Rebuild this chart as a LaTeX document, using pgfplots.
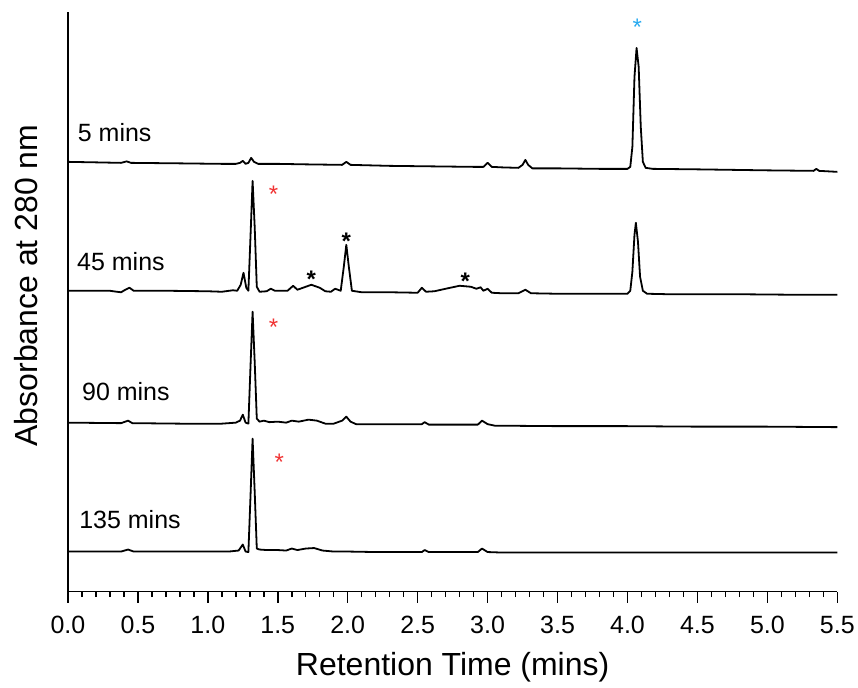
\documentclass[border=0pt]{standalone}
\usepackage{pgfplots}
\pgfplotsset{compat=1.18}
\usepackage{fontspec}
\setmainfont{Liberation Sans}
\definecolor{starred}{RGB}{240,50,50}
\definecolor{starblue}{RGB}{40,170,240}
\tikzset{trace/.style={black, mark=none, line width=1.8pt, line join=round}}
\begin{document}
\begin{tikzpicture}
\begin{axis}[
  at={(0,0)}, anchor=south west,
  scale only axis, width=770pt, height=580pt,
  xmin=0, xmax=5.5, ymin=5, ymax=585,
  axis x line=bottom, axis y line=left,
  axis line style={-, line width=1.6pt},
  xtick={0,0.5,...,5.5}, minor x tick num=4,
  ytick=\empty,
  tick align=outside,
  major tick length=11pt, minor tick length=5.5pt,
  every tick/.style={line width=1.5pt, black},
  /pgf/number format/assume math mode=true,
  xticklabel style={/pgf/number format/fixed, /pgf/number format/fixed zerofill,
    /pgf/number format/precision=1, font=\fontsize{25}{25}\selectfont, yshift=-10pt},
  xlabel={Retention Time (mins)},
  ylabel={Absorbance at 280 nm},
  every axis x label/.style={at={(axis description cs:0.5,-0.131)}, anchor=center, font=\fontsize{32}{32}\selectfont},
  every axis y label/.style={at={(axis description cs:-0.0545,0.528)}, rotate=90, anchor=center, font=\fontsize{32}{32}\selectfont},
  clip=false,
]
% 5 mins
\addplot[trace] coordinates {
(0.00,435) (0.20,434.5) (0.38,434) (0.42,435.5) (0.45,434) (0.80,433.5) (1.10,433) (1.20,433)
(1.23,434) (1.25,436) (1.27,433) (1.29,434) (1.31,439) (1.33,435) (1.36,433) (1.50,433)
(1.70,432.5) (1.96,432) (1.99,435) (2.02,432) (2.30,431) (2.60,430.5) (2.90,430) (2.97,430)
(3.00,434) (3.03,430) (3.10,429.5) (3.22,429) (3.25,432) (3.27,437) (3.29,432) (3.32,428.5)
(3.50,428.5) (3.80,428) (4.00,428) (4.02,430) (4.035,450) (4.05,520) (4.065,549) (4.08,530)
(4.095,470) (4.11,435) (4.13,429) (4.18,428) (4.50,427.5) (5.00,426.5) (5.33,426) (5.35,428)
(5.37,426) (5.50,425)
};
% 45 mins
\addplot[trace] coordinates {
(0.00,306) (0.30,306) (0.35,305) (0.38,304.5) (0.41,307) (0.44,309) (0.47,306) (0.70,306)
(1.00,305.5) (1.10,305) (1.18,306.5) (1.21,306) (1.235,312) (1.255,324) (1.275,309) (1.29,306)
(1.305,360) (1.32,416) (1.335,370) (1.35,310) (1.37,305) (1.42,305.5) (1.45,308) (1.48,306)
(1.57,306) (1.61,311) (1.64,307) (1.68,309) (1.74,312) (1.80,309) (1.84,305.5) (1.88,305)
(1.91,308) (1.95,306) (1.972,330) (1.99,352) (2.008,330) (2.03,306) (2.10,304.5) (2.30,304.5)
(2.50,304) (2.53,309) (2.56,305) (2.62,305.5) (2.70,308) (2.80,311) (2.88,310) (2.92,308)
(2.95,309.5) (2.97,306) (3.00,308) (3.03,304) (3.10,303.5) (3.22,303.5) (3.27,307) (3.31,303.5)
(3.50,303) (3.80,303) (4.00,303) (4.02,306) (4.035,325) (4.05,362) (4.06,374) (4.075,355)
(4.09,320) (4.11,306) (4.14,303) (4.30,302.5) (4.80,302.5) (5.20,302) (5.50,302)
};
% 90 mins
\addplot[trace] coordinates {
(0.00,174) (0.38,173.5) (0.43,176) (0.46,173.5) (0.80,173) (1.10,173) (1.20,174) (1.23,176)
(1.25,182) (1.27,174) (1.29,173) (1.305,230) (1.32,285) (1.335,235) (1.35,178) (1.37,175)
(1.40,176) (1.44,174.5) (1.50,175) (1.56,174) (1.60,176) (1.65,175) (1.72,177) (1.78,176)
(1.84,173) (1.90,173) (1.96,176) (1.99,180) (2.02,175) (2.06,172.5) (2.30,172.5) (2.53,172.5)
(2.55,174.5) (2.58,172) (2.80,172) (2.93,172) (2.96,176) (3.00,172.5) (3.05,171) (3.50,170.5)
(4.00,170.5) (4.50,170) (5.00,170) (5.50,169.5)
};
% 135 mins
\addplot[trace] coordinates {
(0.00,45) (0.38,45) (0.43,47) (0.47,45) (0.80,45) (1.15,45) (1.22,46) (1.25,52)
(1.27,45) (1.29,44.5) (1.305,100) (1.32,158) (1.335,105) (1.35,48) (1.37,47) (1.42,46.5)
(1.50,46.5) (1.56,46) (1.60,48) (1.64,46.5) (1.70,48) (1.76,48.5) (1.82,46) (1.90,45)
(2.00,45) (2.20,44.5) (2.53,44.5) (2.55,46.5) (2.58,44.5) (2.80,44.5) (2.93,44.5) (2.96,48)
(3.00,44.5) (3.10,44) (4.00,44) (4.50,44) (5.00,44) (5.50,44)
};
% labels
\node[anchor=west, inner sep=0pt, font=\fontsize{25}{25}\selectfont] at (axis cs:0.07,464) {5 mins};
\node[anchor=west, inner sep=0pt, font=\fontsize{25}{25}\selectfont] at (axis cs:0.065,335) {45 mins};
\node[anchor=west, inner sep=0pt, font=\fontsize{25}{25}\selectfont] at (axis cs:0.10,205) {90 mins};
\node[anchor=west, inner sep=0pt, font=\fontsize{25}{25}\selectfont] at (axis cs:0.08,77) {135 mins};
% asterisks
\node[anchor=base, inner sep=0pt, yshift=-13.5pt, text=starblue, font=\fontsize{24}{24}\selectfont] at (axis cs:4.07,575) {*};
\node[anchor=base, inner sep=0pt, yshift=-13.5pt, text=starred, font=\fontsize{24}{24}\selectfont] at (axis cs:1.47,408) {*};
\node[anchor=base, inner sep=0pt, yshift=-13.5pt, text=starred, font=\fontsize{24}{24}\selectfont] at (axis cs:1.47,275) {*};
\node[anchor=base, inner sep=0pt, yshift=-13.5pt, text=starred, font=\fontsize{24}{24}\selectfont] at (axis cs:1.51,140) {*};
\node[anchor=base, inner sep=0pt, yshift=-14pt, font=\bfseries\fontsize{24}{24}\selectfont] at (axis cs:1.99,361) {*};
\node[anchor=base, inner sep=0pt, yshift=-14pt, font=\bfseries\fontsize{24}{24}\selectfont] at (axis cs:1.74,323) {*};
\node[anchor=base, inner sep=0pt, yshift=-14pt, font=\bfseries\fontsize{24}{24}\selectfont] at (axis cs:2.84,321) {*};
\end{axis}
\path (-68pt,-96pt) rectangle (790pt,592pt);
\end{tikzpicture}
\end{document}
